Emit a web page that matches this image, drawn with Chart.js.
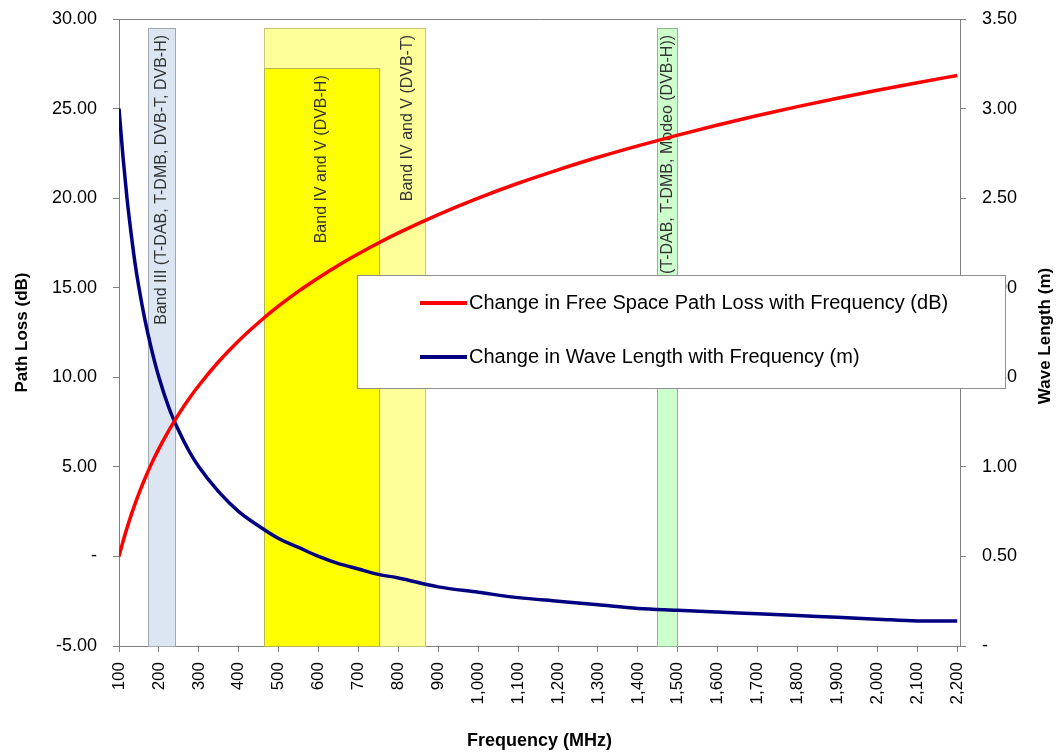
<!DOCTYPE html>
<html>
<head>
<meta charset="utf-8">
<script src="https://cdn.jsdelivr.net/npm/chart.js@4"></script>
<style>
html, body { margin: 0; padding: 0; background: #fff; }
</style>
</head>
<body>
<canvas id="myChart" width="1056" height="754"></canvas>
<script>
// values (MHz, dB, m)
const frequency = [100, 110, 120, 130, 140, 150, 165, 180, 200, 225, 250, 275, 300, 350, 400, 450, 500, 550, 600, 650, 700, 750, 800, 900, 1000, 1100, 1200, 1300, 1400, 1500, 1600, 1700, 1800, 1900, 2000, 2100, 2200];
const pathLoss = [0.00, 0.83, 1.58, 2.28, 2.92, 3.52, 4.35, 5.11, 6.02, 7.04, 7.96, 8.79, 9.54, 10.88, 12.04, 13.06, 13.98, 14.81, 15.56, 16.26, 16.90, 17.50, 18.06, 19.08, 20.00, 20.83, 21.58, 22.28, 22.92, 23.52, 24.08, 24.61, 25.11, 25.58, 26.02, 26.44, 26.85];
const waveLength = [3.00, 2.73, 2.50, 2.31, 2.14, 2.00, 1.82, 1.67, 1.50, 1.33, 1.20, 1.09, 1.00, 0.86, 0.75, 0.67, 0.60, 0.55, 0.50, 0.46, 0.43, 0.40, 0.38, 0.33, 0.30, 0.27, 0.25, 0.23, 0.21, 0.20, 0.19, 0.18, 0.17, 0.16, 0.15, 0.14, 0.14];

// x tick labels
const freqTicks = [100, 200, 300, 400, 500, 600, 700, 800, 900, 1000, 1100, 1200, 1300, 1400, 1500, 1600, 1700, 1800, 1900, 2000, 2100, 2200];

// frequency bands (shaded boxes)
const bandNames = ['Band IV and V (DVB-T)', 'Band IV and V (DVB-H)', 'Band III (T-DAB, T-DMB, DVB-T, DVB-H)', 'L-Band (T-DAB, T-DMB, Modeo (DVB-H))'];
const bandStart = [463, 463, 172, 1449];
const bandEnd = [867, 752, 241, 1499];
const bandTop = [29.5, 27.25, 29.5, 29.5];
const bandLabelFreq = [822, 607, 206, 1474];

const seriesNames = ['Change in Free Space Path Loss with Frequency (dB)', 'Change in Wave Length with Frequency (m)'];

const bandFill = ['#FFFF99', '#FFFF00', '#DCE6F2', '#CCFFCC'];
const bandEdge = ['#C8C87A', '#B4B450', '#A0A8B4', '#90B890'];
const FONT = "'Liberation Sans', Arial, sans-serif";

Chart.defaults.font.family = FONT;
Chart.defaults.color = '#000';

const bandPlugin = {
    id: 'bands',
    beforeDatasetsDraw(chart) {
        const { ctx, chartArea, scales } = chart;
        const x = scales.x, y = scales.y;
        ctx.save();
        // plot border (top line)
        ctx.strokeStyle = '#808080';
        ctx.lineWidth = 1;
        ctx.beginPath();
        ctx.moveTo(chartArea.left, chartArea.top + 0.5);
        ctx.lineTo(chartArea.right, chartArea.top + 0.5);
        ctx.stroke();

        bandNames.forEach((name, i) => {
            const x0 = Math.round(x.getPixelForValue(bandStart[i]));
            const x1 = Math.round(x.getPixelForValue(bandEnd[i]));
            const yTop = Math.round(y.getPixelForValue(bandTop[i]));
            const yBot = chartArea.bottom;
            ctx.fillStyle = bandFill[i];
            ctx.fillRect(x0, yTop, x1 - x0, yBot - yTop);
            ctx.strokeStyle = bandEdge[i];
            ctx.strokeRect(x0 + 0.5, yTop + 0.5, x1 - x0, yBot - yTop);
        });

        ctx.fillStyle = '#333';
        ctx.font = '16px ' + FONT;
        ctx.textAlign = 'right';
        ctx.textBaseline = 'middle';
        bandNames.forEach((name, i) => {
            const lx = x.getPixelForValue(bandLabelFreq[i]);
            const ly = y.getPixelForValue(bandTop[i]) + 7;
            ctx.save();
            ctx.translate(lx, ly);
            ctx.rotate(-Math.PI / 2);
            ctx.fillText(name, 0, 0);
            ctx.restore();
        });
        ctx.restore();
    },
    afterDraw(chart) {
        const ctx = chart.ctx;
        ctx.save();
        // right axis title, reading bottom to top
        ctx.fillStyle = '#000';
        ctx.font = 'bold 17px ' + FONT;
        ctx.textAlign = 'center';
        ctx.textBaseline = 'middle';
        ctx.translate(1045, 336);
        ctx.rotate(-Math.PI / 2);
        ctx.fillText('Wave Length (m)', 0, 0);
        ctx.restore();

        // legend box on top of everything
        ctx.save();
        ctx.fillStyle = '#fff';
        ctx.fillRect(357, 275, 648, 113);
        ctx.strokeStyle = '#909090';
        ctx.lineWidth = 1;
        ctx.strokeRect(357.5, 275.5, 648, 113);
        ctx.font = '20px ' + FONT;
        ctx.textAlign = 'left';
        ctx.textBaseline = 'middle';
        chart.data.datasets.forEach((ds, i) => {
            const ly = 303 + i * 54;
            ctx.strokeStyle = ds.borderColor;
            ctx.lineWidth = 4;
            ctx.beginPath();
            ctx.moveTo(420, ly);
            ctx.lineTo(467, ly);
            ctx.stroke();
            ctx.fillStyle = '#000';
            ctx.fillText(ds.label, 469, ly);
        });
        ctx.restore();
    }
};

const dash = (v) => v === 0 ? '-' : v.toFixed(2);
const fitY = (w) => (s) => { s.width = w; s.paddingTop = 0; s.paddingBottom = 0; };

const ctx = document.getElementById('myChart').getContext('2d');
const myChart = new Chart(ctx, {
    type: 'line',
    data: {
        datasets: [{
            label: seriesNames[0],
            data: frequency.map((f, i) => ({ x: f, y: pathLoss[i] })),
            borderColor: '#FF0000',
            borderWidth: 3.5,
            pointRadius: 0,
            cubicInterpolationMode: 'monotone',
            yAxisID: 'y'
        }, {
            label: seriesNames[1],
            data: frequency.map((f, i) => ({ x: f, y: waveLength[i] })),
            borderColor: '#000080',
            borderWidth: 3.5,
            pointRadius: 0,
            cubicInterpolationMode: 'monotone',
            yAxisID: 'y2'
        }]
    },
    options: {
        responsive: false,
        animation: false,
        layout: { padding: { top: 19, left: 0, right: 0, bottom: 0 } },
        plugins: { legend: { display: false }, tooltip: { enabled: false } },
        scales: {
            x: {
                type: 'linear',
                min: 100,
                max: 2207,
                afterFit: (s) => { s.height = 108; },
                afterBuildTicks: (s) => { s.ticks = freqTicks.map(v => ({ value: v })); },
                ticks: {
                    autoSkip: false,
                    minRotation: 90,
                    maxRotation: 90,
                    padding: 10,
                    font: { size: 17 },
                    callback: (v) => v.toLocaleString('en-US')
                },
                grid: { drawOnChartArea: false, tickLength: 6, color: '#808080' },
                border: { color: '#808080' },
                title: { display: true, text: 'Frequency (MHz)', font: { size: 18, weight: 'bold' }, padding: { top: 0, bottom: 2 } }
            },
            y: {
                position: 'left',
                min: -5,
                max: 30,
                afterFit: fitY(119),
                ticks: { stepSize: 5, padding: 16, font: { size: 18 }, callback: dash },
                grid: { drawOnChartArea: false, tickLength: 6, color: '#808080' },
                border: { color: '#808080' },
                title: { display: true, text: 'Path Loss (dB)', font: { size: 17, weight: 'bold' }, padding: { top: 12, bottom: 0 } }
            },
            y2: {
                position: 'right',
                min: 0,
                max: 3.5,
                afterFit: fitY(96),
                ticks: { stepSize: 0.5, padding: 16, font: { size: 18 }, callback: dash },
                grid: { drawOnChartArea: false, tickLength: 6, color: '#808080' },
                border: { color: '#808080' }
            }
        }
    },
    plugins: [bandPlugin]
});
</script>
</body>
</html>
